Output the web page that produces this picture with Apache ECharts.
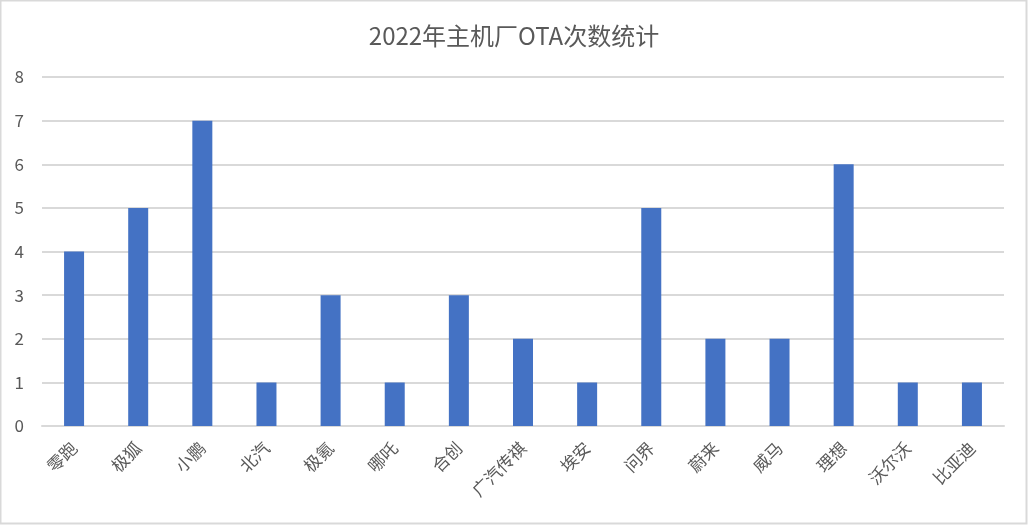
<!DOCTYPE html>
<html><head><meta charset="utf-8">
<script src="https://cdn.jsdelivr.net/npm/echarts@6/dist/echarts.min.js"></script>
<style>html,body{margin:0;padding:0;background:#fff}#c{width:1028px;height:525px}</style>
</head><body><div id="c"></div>
<script>
const categories = ['零跑','极狐','小鹏','北汽','极氪','哪吒','合创','广汽传祺','埃安','问界','蔚来','威马','理想','沃尔沃','比亚迪'];
const otaCounts = [4,5,7,1,3,1,3,2,1,5,2,2,6,1,1];
const titleText = '2022年主机厂OTA次数统计';
const font = '"Noto Sans CJK SC", "Noto Sans", sans-serif';
const chart = echarts.init(document.getElementById('c'));
chart.setOption({
  animation: false,
  backgroundColor: '#fff',
  graphic: [{type:'rect', shape:{x:0.5,y:0.5,width:1026,height:523}, style:{fill:'none', stroke:'#d9d9d9', lineWidth:2}}],
  title: {text: titleText, left: 'center', top: 19, textStyle:{fontFamily: font, fontSize: 24, fontWeight: 'normal', color:'#595959'}},
  grid: {left: 42, right: 24, top: 77, bottom: 99, containLabel: false},
  xAxis: {type:'category', data: categories,
    axisLine:{lineStyle:{color:'#d9d9d9', width:2}}, axisTick:{show:false},
    axisLabel:{rotate:45, interval:0, fontFamily: font, fontSize: 17, color:'#595959', margin: 19}},
  yAxis: {type:'value', min:0, max:8, interval:1,
    axisLine:{show:false}, axisTick:{show:false},
    splitLine:{lineStyle:{color:'#d9d9d9', width:2}},
    axisLabel:{fontFamily: font, fontSize: 17, color:'#595959', margin: 18}},
  series: [{type:'bar', data: otaCounts, barWidth: 20, itemStyle:{color:'#4472c4'}}]
});
</script></body></html>
